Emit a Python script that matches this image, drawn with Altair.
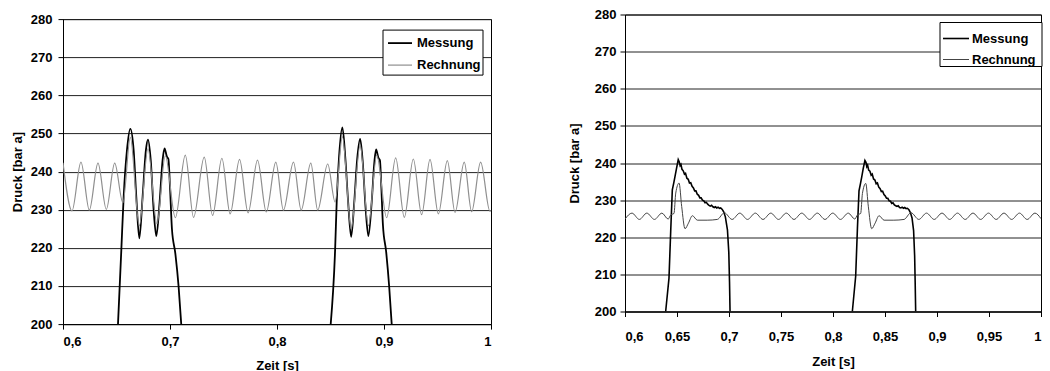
import altair as alt
import pandas as pd

FONT = "Liberation Sans"

# ---------------- Left chart data ----------------
L_calc_t = [0.6000, 0.6084, 0.6168, 0.6246, 0.6327, 0.6405, 0.6483, 0.6560, 0.6629, 0.6713,
            0.6794, 0.6878, 0.6956, 0.7050, 0.7143, 0.7220, 0.7320, 0.7398, 0.7485, 0.7562,
            0.7650, 0.7730, 0.7818, 0.7900, 0.7989, 0.8060, 0.8154, 0.8226, 0.8316, 0.8380,
            0.8474, 0.8543, 0.8611, 0.8693, 0.8777, 0.8854, 0.8932, 0.9025, 0.9109, 0.9190,
            0.9274, 0.9352, 0.9430, 0.9508, 0.9592, 0.9664, 0.9750, 0.9819, 0.9903, 0.9990,
            1.0000]
L_calc_v = [242.3, 229.7, 242.5, 229.9, 242.2, 230.1, 242.2, 231.8, 249.0, 225.8,
            246.0, 226.3, 244.2, 227.9, 244.3, 228.0, 243.8, 228.5, 243.5, 228.9,
            243.2, 229.2, 243.0, 229.4, 242.5, 229.9, 242.5, 229.9, 242.2, 229.9,
            242.0, 232.0, 249.2, 225.0, 247.0, 225.8, 244.3, 227.9, 243.6, 228.0,
            243.3, 228.7, 243.2, 228.9, 242.9, 229.3, 242.5, 229.5, 242.5, 229.6,
            229.8]

L_meas1_t = [0.6514, 0.6545, 0.6567, 0.6598, 0.6629, 0.6660, 0.6685, 0.6713, 0.6744, 0.6775,
             0.6794, 0.6820, 0.6847, 0.6872, 0.6903, 0.6931, 0.6949, 0.6971, 0.6985, 0.7000,
             0.7018, 0.7050, 0.7080, 0.7105]
L_meas1_v = [200.0, 219.4, 233.4, 245.7, 251.2, 245.7, 233.4, 222.5, 233.4, 245.7,
             248.4, 243.0, 230.0, 223.1, 232.0, 243.1, 246.1, 243.9, 243.3, 236.0,
             225.0, 218.5, 210.0, 200.0]

L_meas2_t = [0.8502, 0.8543, 0.8558, 0.8580, 0.8611, 0.8640, 0.8665, 0.8693, 0.8722, 0.8750,
             0.8777, 0.8800, 0.8828, 0.8854, 0.8885, 0.8910, 0.8926, 0.8948, 0.8962, 0.8975,
             0.8990, 0.9020, 0.9048, 0.9072]
L_meas2_v = [200.0, 219.4, 232.1, 243.9, 251.6, 243.0, 232.0, 222.9, 232.0, 243.5,
             248.6, 243.0, 230.5, 223.1, 232.0, 242.5, 245.8, 243.6, 243.0, 236.0,
             226.0, 219.0, 210.0, 200.0]

# ---------------- Right chart data ----------------
R_calc_t = [0.6000, 0.6067, 0.6138, 0.6210, 0.6283, 0.6355, 0.6415, 0.6440, 0.6471, 0.6488,
            0.6520, 0.6545, 0.6577, 0.6610, 0.6648, 0.6696, 0.6790, 0.6888, 0.6955, 0.7030,
            0.7104, 0.7178, 0.7253, 0.7327, 0.7402, 0.7476, 0.7551, 0.7625, 0.7700, 0.7774,
            0.7849, 0.7923, 0.7998, 0.8072, 0.8147, 0.8210, 0.8235, 0.8266, 0.8283, 0.8315,
            0.8340, 0.8372, 0.8405, 0.8443, 0.8491, 0.8585, 0.8683, 0.8750, 0.8825, 0.8899,
            0.8973, 0.9048, 0.9122, 0.9197, 0.9271, 0.9346, 0.9420, 0.9495, 0.9569, 0.9644,
            0.9718, 0.9793, 0.9867, 0.9942, 1.0000]
R_calc_v = [224.9, 226.5, 224.8, 226.5, 224.8, 226.5, 224.9, 226.0, 226.4, 231.9,
            234.6, 228.3, 222.3, 223.8, 225.8, 224.6, 224.6, 224.8, 226.6, 224.8,
            226.5, 224.8, 226.5, 224.8, 226.5, 224.8, 226.5, 224.8, 226.5, 224.8,
            226.5, 224.8, 226.5, 224.8, 226.5, 224.9, 226.0, 226.4, 231.8, 234.5,
            228.2, 222.3, 223.8, 225.8, 224.6, 224.6, 224.8, 226.6, 224.8, 226.5,
            224.8, 226.5, 224.8, 226.5, 224.8, 226.5, 224.8, 226.5, 224.8, 226.5,
            224.8, 226.5, 224.8, 226.5, 225.0]

R_meas1_t = [0.6391, 0.6423, 0.6440, 0.6455, 0.6470, 0.6481, 0.6495, 0.6512, 0.6522, 0.6530,
             0.6538, 0.6548, 0.6560, 0.6572, 0.6582, 0.6595, 0.6608, 0.6620, 0.6632, 0.6645,
             0.6658, 0.6670, 0.6682, 0.6695, 0.6708, 0.6720, 0.6732, 0.6745, 0.6758, 0.6770,
             0.6782, 0.6795, 0.6808, 0.6820, 0.6832, 0.6845, 0.6858, 0.6870, 0.6882, 0.6895,
             0.6908, 0.6920, 0.6935, 0.6950, 0.6965, 0.6985, 0.6998, 0.7005, 0.7010]
R_meas1_v = [200.0, 209.0, 222.0, 232.8, 234.8, 236.4, 238.5, 240.9, 240.3, 239.3,
             239.6, 238.3, 237.9, 237.0, 237.2, 235.9, 235.6, 234.6, 234.7, 233.7,
             233.3, 232.5, 232.5, 231.6, 231.3, 230.6, 230.6, 230.0, 229.8, 229.3,
             229.4, 228.9, 228.6, 228.4, 228.6, 228.2, 228.0, 228.2, 227.9, 228.1,
             227.8, 227.9, 227.5, 226.8, 225.5, 222.0, 216.0, 208.0, 200.0]

R_meas2_t = [0.8186, 0.8218, 0.8235, 0.8250, 0.8265, 0.8276, 0.8290, 0.8307, 0.8317, 0.8325,
             0.8333, 0.8343, 0.8355, 0.8367, 0.8377, 0.8390, 0.8403, 0.8415, 0.8427, 0.8440,
             0.8453, 0.8465, 0.8477, 0.8490, 0.8503, 0.8515, 0.8527, 0.8540, 0.8553, 0.8565,
             0.8577, 0.8590, 0.8603, 0.8615, 0.8627, 0.8640, 0.8653, 0.8665, 0.8677, 0.8690,
             0.8703, 0.8715, 0.8730, 0.8745, 0.8760, 0.8775, 0.8785, 0.8790, 0.8795]
R_meas2_v = [200.0, 209.5, 222.5, 232.5, 234.6, 236.2, 238.4, 240.7, 240.2, 239.0,
             239.4, 238.1, 237.8, 236.7, 237.0, 235.7, 235.4, 234.4, 234.6, 233.5,
             233.1, 232.3, 232.4, 231.5, 231.1, 230.5, 230.5, 229.8, 229.7, 229.1,
             229.3, 228.7, 228.5, 228.3, 228.5, 228.0, 227.9, 228.1, 227.8, 228.0,
             227.7, 227.8, 227.4, 226.6, 225.2, 221.8, 215.0, 208.0, 200.0]

SERIES = ["Messung", "Rechnung"]
Y_TICKS = [200, 210, 220, 230, 240, 250, 260, 270, 280]
L_X_TICKS = [0.6, 0.7, 0.8, 0.9, 1.0]
R_X_TICKS = [0.6, 0.65, 0.7, 0.75, 0.8, 0.85, 0.9, 0.95, 1.0]


def frame(parts):
    rows = []
    for series, seg, ts, vs in parts:
        for t, v in zip(ts, vs):
            rows.append({"series": series, "seg": seg, "t": t, "v": v})
    return pd.DataFrame(rows)


left_meas = frame([("Messung", "a", L_meas1_t, L_meas1_v), ("Messung", "b", L_meas2_t, L_meas2_v)])
left_calc = frame([("Rechnung", "c", L_calc_t, L_calc_v)])
right_meas = frame([("Messung", "a", R_meas1_t, R_meas1_v), ("Messung", "b", R_meas2_t, R_meas2_v)])
right_calc = frame([("Rechnung", "c", R_calc_t, R_calc_v)])

ONE = pd.DataFrame({"k": [0]})


def legend_layers(colors, widths, box, sym_x, text_x, rows_y):
    x0, x1, y0, y1 = box
    layers = [alt.Chart(ONE).mark_rect(fill="white", stroke="black", strokeWidth=1).encode(
        x=alt.value(x0), x2=alt.value(x1), y=alt.value(y0), y2=alt.value(y1))]
    for name, col, wd, ry in zip(SERIES, colors, widths, rows_y):
        layers.append(alt.Chart(ONE).mark_rule(color=col, strokeWidth=wd).encode(
            x=alt.value(sym_x[0]), x2=alt.value(sym_x[1]), y=alt.value(ry)))
        layers.append(alt.Chart(ONE).mark_text(
            text=name, align="left", baseline="middle", font=FONT, fontSize=13,
            fontWeight="bold", color="black").encode(x=alt.value(text_x), y=alt.value(ry)))
    return layers


def panel(meas, calc, w, h, xticks, colors, widths, meas_interp,
          x_lab_pad, x_title_pad, y_lab_pad, y_title_pad, leg):
    x = alt.X("t:Q", scale=alt.Scale(domain=[0.6, 1.0], nice=False, zero=False),
              axis=alt.Axis(values=xticks, title="Zeit [s]", grid=False,
                            labelExpr="replace(format(datum.value, '.2~f'), '.', ',')",
                            labelPadding=x_lab_pad, titlePadding=x_title_pad))
    y = alt.Y("v:Q", scale=alt.Scale(domain=[200, 280], nice=False, zero=False),
              axis=alt.Axis(values=Y_TICKS, title="Druck [bar a]", grid=True,
                            labelPadding=y_lab_pad, titlePadding=y_title_pad))
    color = alt.Color("series:N", scale=alt.Scale(domain=SERIES, range=colors), legend=None)
    sw = alt.StrokeWidth("series:N", scale=alt.Scale(domain=SERIES, range=widths), legend=None)

    m = alt.Chart(meas).mark_line(clip=True, interpolate=meas_interp).encode(
        x=x, y=y, color=color, strokeWidth=sw, detail="seg:N")
    c = alt.Chart(calc).mark_line(clip=True, interpolate="monotone").encode(
        x=x, y=y, color=color, strokeWidth=sw, detail="seg:N")
    return alt.layer(m, c, *legend_layers(colors, widths, *leg)).properties(width=w, height=h)


L_COLORS = ["#000000", "#8f8f8f"]
L_WIDTHS = [1.8, 1.2]
R_COLORS = ["#000000", "#444444"]
R_WIDTHS = [1.6, 1.0]

left = panel(left_meas, left_calc, 428, 305, L_X_TICKS, L_COLORS, L_WIDTHS, "monotone",
             6, 11, 6, 6,
             ((320, 420, 11, 56), (325, 349), 354, (24, 46)))
right = panel(right_meas, right_calc, 416, 297, R_X_TICKS, R_COLORS, R_WIDTHS, "linear",
              14, 12, 4, 13,
              ((315, 417, 8, 52), (318, 344), 347, (24, 45)))


def spacer(w):
    return alt.Chart(ONE).mark_rect(opacity=0).encode(
        x=alt.value(0), x2=alt.value(1), y=alt.value(0), y2=alt.value(1)
    ).properties(width=w, height=1, view=alt.ViewBackground(stroke="transparent"))


left_col = alt.vconcat(spacer(428), left, spacing=4.6)
right_col = alt.vconcat(spacer(416), right, spacing=0)

chart = alt.hconcat(left_col, right_col, spacing=75).resolve_scale(
    color="independent", strokeWidth="independent"
).properties(
    padding={"left": 10, "top": 4.5, "right": 0, "bottom": 0}
).configure_view(stroke="black", strokeWidth=1).configure_axis(
    labelFont=FONT, titleFont=FONT, labelFontSize=13, titleFontSize=13,
    labelFontWeight="bold", titleFontWeight="bold",
    labelColor="black", titleColor="black",
    domainColor="black", tickColor="black", tickSize=5,
    gridColor="#222222", gridWidth=1, gridOpacity=1,
)

chart.save("out.html", embed_options={"renderer": "svg", "actions": False})
